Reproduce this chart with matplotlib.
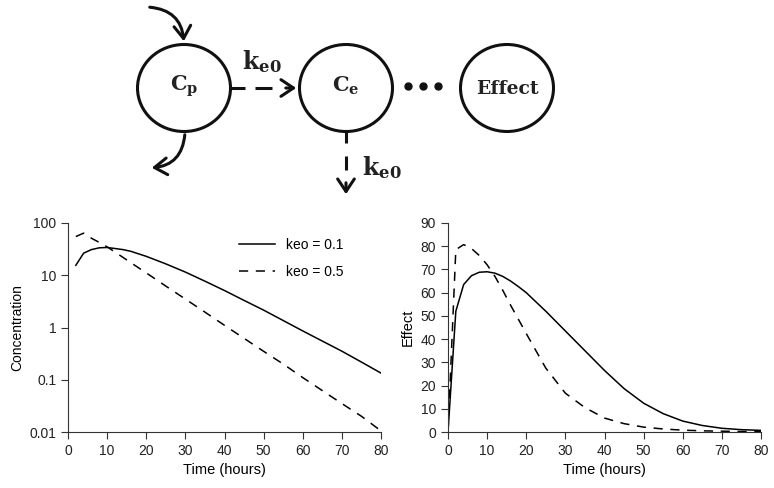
import matplotlib
matplotlib.use("Agg")
import matplotlib.pyplot as plt
from matplotlib.patches import Ellipse, FancyArrowPatch

plt.rcParams["font.family"] = ["Liberation Sans", "DejaVu Sans"]
plt.rcParams["mathtext.fontset"] = "dejavuserif"

# left panel: concentration (log scale)
hours_conc = [2, 4, 6, 8, 10, 12, 14, 16, 20, 25, 30, 35, 40, 45, 50, 55, 60, 65, 70, 75, 80]
conc_keo01 = [15.5, 26.5, 31, 33.5, 34, 32.5, 31, 28.8, 23, 16.5, 11.5, 7.7, 5.1, 3.3, 2.15,
              1.36, 0.86, 0.55, 0.352, 0.218, 0.134]
conc_keo05 = [55, 64, 51, 42.5, 35, 27.8, 22.1, 17.5, 11.1, 6.2, 3.5, 1.97, 1.1, 0.62, 0.35,
              0.2, 0.11, 0.062, 0.035, 0.02, 0.0105]

# right panel: effect
hours_eff = [0, 2, 4, 6, 8, 10, 12, 14, 16, 18, 20, 25, 30, 35, 40, 45, 50, 55, 60, 65, 70, 75, 80]
eff_keo01 = [0, 52, 63.5, 67.3, 68.8, 69, 68.4, 67, 65, 62.6, 60, 52, 43.5, 35, 26.5, 18.7,
             12.4, 7.9, 4.7, 2.8, 1.6, 1.0, 0.7]
eff_keo05 = [0, 78.5, 80.7, 79, 76, 72, 67, 61, 54.6, 48.5, 42.4, 27.5, 16.7, 10.5, 6, 3.6,
             2.1, 1.3, 0.8, 0.5, 0.35, 0.2, 0.15]

legend_labels = ["keo = 0.1", "keo = 0.5"]

W, H = 774, 488
fig = plt.figure(figsize=(W / 100, H / 100), dpi=100)

# ---- diagram on top, drawn in pixel coords ----
d = fig.add_axes([0, 1 - 205 / H, 1, 205 / H])
d.set_xlim(0, W)
d.set_ylim(205, 0)
d.axis("off")

ink = "#111111"
lw_d = 2.2
for cx, txt in [(184, r"$\mathbf{C_p}$"), (346, r"$\mathbf{C_e}$"), (507, "Effect")]:
    d.add_patch(Ellipse((cx, 88), 93, 87, fill=False, lw=lw_d, color=ink))
    if txt == "Effect":
        d.text(cx, 89, txt, ha="center", va="center", fontsize=13.5, fontweight="bold",
               family="DejaVu Serif", color="#222222")
    else:
        d.text(cx, 86, txt, ha="center", va="center", fontsize=15, color="#222222")

head = "->,head_length=9,head_width=6"

# dashed arrow Cp -> Ce (stub, dash, head)
d.plot([231, 245], [88, 88], color=ink, lw=lw_d, solid_capstyle="butt")
d.plot([255, 272], [88, 88], color=ink, lw=lw_d, solid_capstyle="butt")
d.add_patch(FancyArrowPatch((283, 88), (299, 88), arrowstyle=head,
                            lw=lw_d, color=ink, mutation_scale=1))
d.text(262, 62, r"$\mathbf{k_{e0}}$", ha="center", va="center", fontsize=17, color="#222222")

# dots
for x in [408, 423, 438]:
    d.plot(x, 86, "o", color=ink, ms=5)

# dashed arrow down from Ce
d.plot([346, 346], [132, 143], color=ink, lw=lw_d, solid_capstyle="butt")
d.plot([346, 346], [156, 170], color=ink, lw=lw_d, solid_capstyle="butt")
d.add_patch(FancyArrowPatch((346, 180), (346, 197), arrowstyle=head,
                            lw=lw_d, color=ink, mutation_scale=1))
d.text(382, 168, r"$\mathbf{k_{e0}}$", ha="center", va="center", fontsize=17, color="#222222")

# curved arrows at Cp
d.add_patch(FancyArrowPatch((147, 7), (184, 44), connectionstyle="arc3,rad=-0.45",
                            arrowstyle=head, lw=lw_d, color=ink, mutation_scale=1))
d.add_patch(FancyArrowPatch((185, 132), (149, 168), connectionstyle="arc3,rad=-0.45",
                            arrowstyle=head, lw=lw_d, color=ink, mutation_scale=1))

# ---- bottom plots ----
ax1 = fig.add_axes([68 / W, 1 - 432 / H, 313 / W, 209 / H])
ax2 = fig.add_axes([448 / W, 1 - 432 / H, 313 / W, 209 / H])

ax1.plot(hours_conc, conc_keo01, color="black", lw=1.1, label=legend_labels[0])
ax1.plot(hours_conc, conc_keo05, color="black", lw=1.1, ls=(0, (6, 5)), label=legend_labels[1])
ax1.set_yscale("log")
ax1.set_ylim(0.01, 100)
ax1.set_yticks([0.01, 0.1, 1, 10, 100])
ax1.set_yticklabels(["0.01", "0.1", "1", "10", "100"])
ax1.minorticks_off()
ax1.set_ylabel("Concentration", fontsize=10)
ax1.legend(frameon=False, loc="upper right", bbox_to_anchor=(0.92, 0.99), fontsize=10,
           handlelength=2.6, labelspacing=0.95)

ax2.plot(hours_eff, eff_keo01, color="black", lw=1.1)
ax2.plot(hours_eff, eff_keo05, color="black", lw=1.1, ls=(0, (6, 5)))
ax2.set_ylim(0, 90)
ax2.set_yticks(range(0, 91, 10))
ax2.set_ylabel("Effect", fontsize=10.5)

for ax in (ax1, ax2):
    ax.set_xlim(0, 80)
    ax.set_xticks(range(0, 81, 10))
    ax.set_xlabel("Time (hours)", fontsize=10.5)
    for s in ("top", "right"):
        ax.spines[s].set_visible(False)
    for s in ("left", "bottom"):
        ax.spines[s].set_color("#333333")
    ax.tick_params(labelsize=10, length=5, color="#333333", labelcolor="#222222")

fig.savefig("out.png", dpi=100)
